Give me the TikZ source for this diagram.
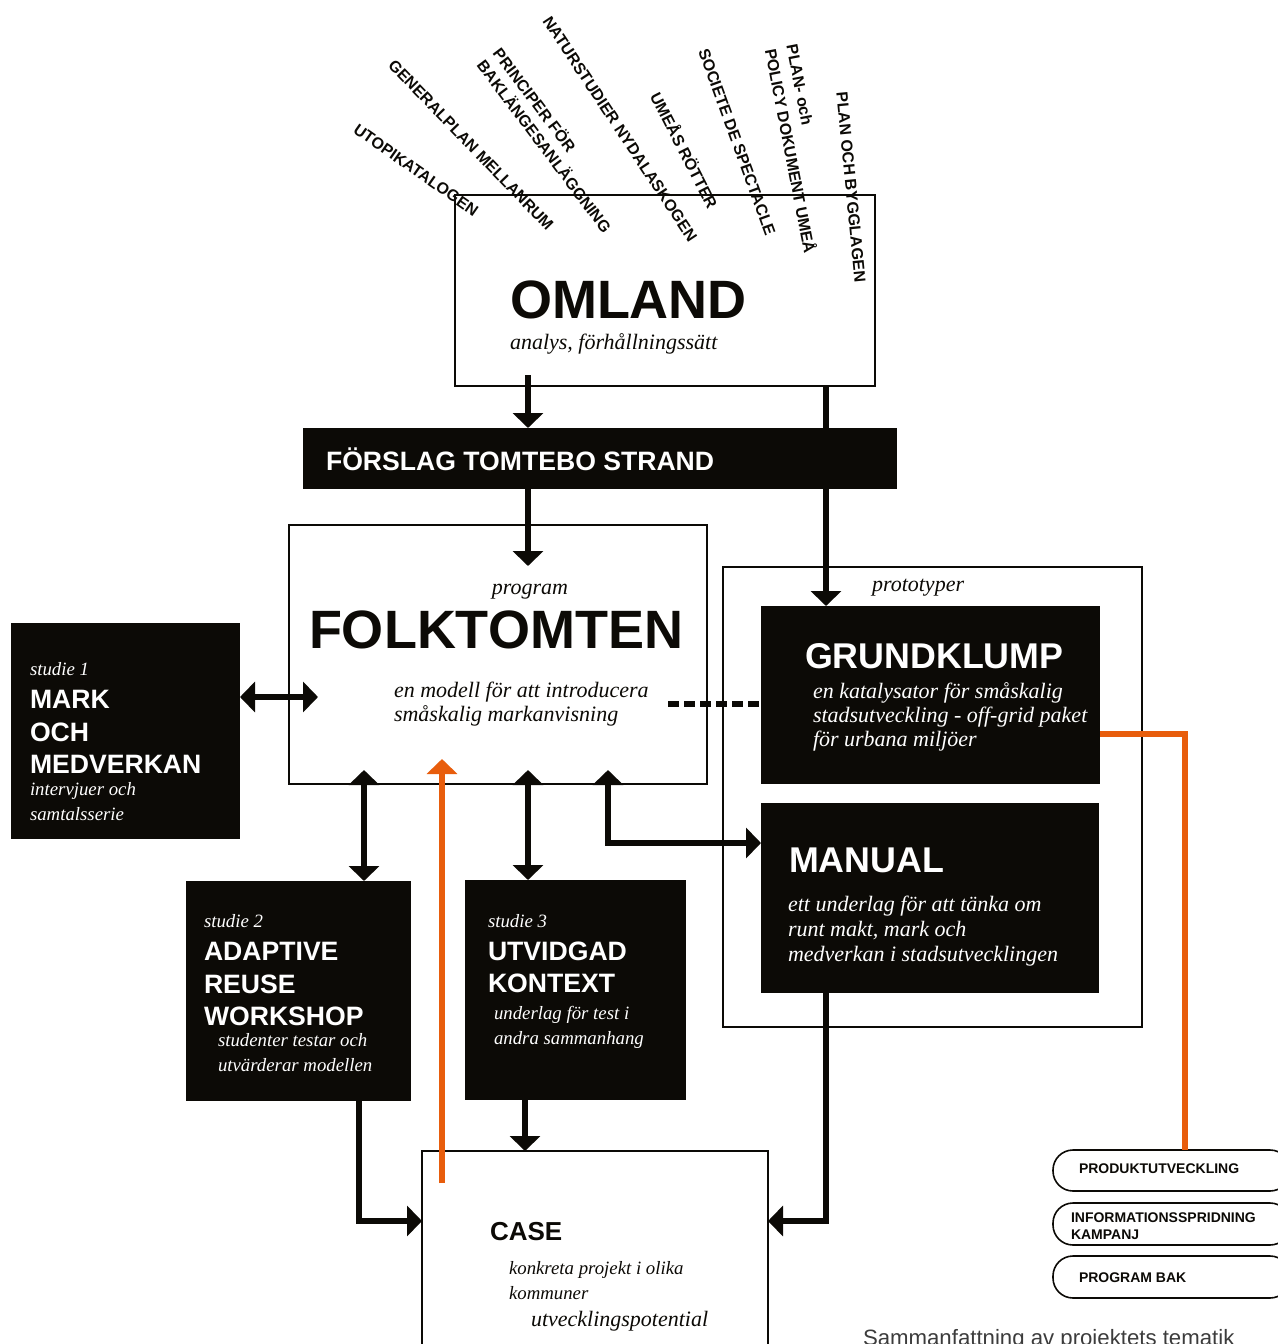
\documentclass[tikz,border=0pt]{standalone}
\usepackage{fontspec}
\setmainfont{Liberation Serif}
\setsansfont{Liberation Sans}
\usetikzlibrary{arrows.meta}

\definecolor{ink}{RGB}{12,10,6}
\definecolor{ember}{RGB}{232,93,12}
\definecolor{captiongray}{RGB}{60,60,60}

\tikzset{
  frame/.style={draw=ink, line width=0.75pt, fill=white, inner sep=0pt, outer sep=0pt},
  slab/.style={fill=ink, inner sep=0pt, outer sep=0pt},
  capsule/.style={draw=ink, line width=0.8pt, rounded corners=10pt, inner sep=0pt, outer sep=0pt},
  link/.style={draw=ink, line width=3pt},
  onehead/.style={-{Triangle[length=7.5pt,width=15pt]}},
  twoheads/.style={{Triangle[length=7.5pt,width=15pt]}-{Triangle[length=7.5pt,width=15pt]}},
  emberlink/.style={draw=ember, line width=3.2pt},
  txt/.style={inner sep=0pt, outer sep=0pt, anchor=base west, text=ink},
  hugecaps/.style={txt, font=\sffamily\bfseries\fontsize{27}{32}\selectfont},
  bigcaps/.style={txt, font=\sffamily\bfseries\fontsize{17.9}{21}\selectfont},
  midcaps/.style={txt, font=\sffamily\bfseries\fontsize{13.3}{16}\selectfont},
  itnote/.style={txt, font=\itshape\fontsize{11}{13}\selectfont},
  itsmall/.style={txt, font=\itshape\fontsize{9.4}{12}\selectfont},
  pilltext/.style={txt, font=\sffamily\bfseries\fontsize{7}{8.5}\selectfont},
  fanlabel/.style={inner sep=0pt, outer sep=0pt, text=ink, align=left,
    font=\sffamily\bfseries\fontsize{8}{10}\selectfont},
  onslab/.style={text=white},
}

\begin{document}
\begin{tikzpicture}[x=0.5pt,y=-0.5pt]
\useasboundingbox (0,0) rectangle (1278,1344);
\clip (0,0) rectangle (1278,1344);

% ---------- outlined boxes ----------
\node[frame, minimum width=210pt, minimum height=95.5pt] (omland) at (665,290.5) {};
\node[frame, minimum width=209pt, minimum height=129.5pt] (folk) at (498,654.5) {};
\node[frame, minimum width=209.5pt, minimum height=230pt] (proto) at (932.5,797) {};
\node[frame, minimum width=173pt, minimum height=109.5pt] (case) at (595,1260.5) {};

% ---------- black boxes ----------
\node[slab, minimum width=297pt, minimum height=30.5pt] (forslag) at (600,458.5) {};
\node[slab, minimum width=114.5pt, minimum height=108pt] (mark) at (125.5,731) {};
\node[slab, minimum width=169.5pt, minimum height=89pt] (grund) at (930.5,695) {};
\node[slab, minimum width=169pt, minimum height=95pt] (manual) at (930,898) {};
\node[slab, minimum width=112.5pt, minimum height=110pt] (adaptive) at (298.5,991) {};
\node[slab, minimum width=110.5pt, minimum height=110pt] (utvidgad) at (575.5,990) {};

% ---------- capsules ----------
\node[capsule, minimum width=118.5pt, minimum height=20.5pt] (pill1) at (1171.5,1170.5) {};
\node[capsule, minimum width=118.5pt, minimum height=21pt] (pill2) at (1171.5,1224) {};
\node[capsule, minimum width=118.5pt, minimum height=21pt] (pill3) at (1171.5,1277) {};

% ---------- connectors ----------
\coordinate (c-om) at (528,375);
\draw[link,onehead] (c-om) -- (c-om |- forslag.north);

\coordinate (c-rx) at (826,0);
\draw[link,onehead] (omland.south -| c-rx) -- (grund.north -| c-rx);

\coordinate (c-folkin) at (528,566);
\draw[link,onehead] (forslag.south -| c-folkin) -- (c-folkin);

\coordinate (c-markin) at (318,697);
\draw[link,twoheads] (mark.east |- c-markin) -- (c-markin);

\coordinate (c-f1) at (364,770);
\draw[link,twoheads] (c-f1) -- (c-f1 |- adaptive.north);
\coordinate (c-f2) at (528,770);
\draw[link,twoheads] (c-f2) -- (c-f2 |- utvidgad.north);
\coordinate (c-f3) at (608,770);
\coordinate (c-bend) at (608,843);
\draw[link,twoheads] (c-f3) -- (c-bend) -- (c-bend -| manual.west);

\coordinate (c-dash) at (668,704);
\draw[link, dash pattern=on 5.5pt off 2.5pt] (c-dash) -- (c-dash -| grund.west);

\coordinate (c-mc) at (826,1221);
\draw[link,onehead] (manual.south -| c-mc) -- (c-mc) -- (c-mc -| case.east);
\coordinate (c-ac) at (359,1221);
\draw[link,onehead] (adaptive.south -| c-ac) -- (c-ac) -- (c-ac -| case.west);
\coordinate (c-uc) at (525,0);
\draw[link,onehead] (utvidgad.south -| c-uc) -- (case.north -| c-uc);

\coordinate (c-ember) at (442,1183);
\coordinate (c-embertip) at (442,759);
\draw[emberlink,-{Triangle[length=7.5pt,width=15pt]}] (c-ember) -- (c-embertip);
\coordinate (c-fl) at (1185,734);
\draw[emberlink] (grund.east |- c-fl) -- (c-fl) -- (c-fl |- pill1.north);

% ---------- source documents fanning into OMLAND ----------
\node[fanlabel, rotate=-35] (src1) at (416,170) {UTOPIKATALOGEN};
\node[fanlabel, rotate=-46] (src2) at (471,145) {GENERALPLAN MELLANRUM};
\node[fanlabel, rotate=-53] (src3) at (553,139.8) {PRINCIPER FÖR\\BAKLÄNGESANLÄGGNING};
\node[fanlabel, rotate=-56.5] (src4) at (620,129) {NATURSTUDIER NYDALASKOGEN};
\node[fanlabel, rotate=-63] (src5) at (685,150) {UMEÅS RÖTTER};
\node[fanlabel, rotate=-70] (src6) at (737,142) {SOCIETE DE SPECTACLE};
\node[fanlabel, rotate=-79, font=\sffamily\bfseries\fontsize{8}{11}\selectfont] (src7) at (801,149) {PLAN- och\\POLICY DOKUMENT UMEÅ};
\node[fanlabel, rotate=-84.5] (src8) at (851,187) {PLAN OCH BYGGLAGEN};

% ---------- OMLAND ----------
\node[hugecaps] (omland-t) at (510,318) {OMLAND};
\node[itnote] (omland-s) at (510,349) {analys, förhållningssätt};

% ---------- FÖRSLAG ----------
\node[midcaps, onslab] (forslag-t) at (326,470) {FÖRSLAG TOMTEBO STRAND};

% ---------- FOLKTOMTEN ----------
\node[itnote, anchor=base] (folk-k) at (530,594) {program};
\node[hugecaps] (folk-t) at (309,648) {FOLKTOMTEN};
\node[itnote] (folk-s1) at (394,697) {en modell för att introducera};
\node[itnote] (folk-s2) at (394,721) {småskalig markanvisning};

% ---------- studie 1 ----------
\node[itsmall, onslab] (mark-k) at (30,675) {studie 1};
\node[midcaps, onslab] (mark-t1) at (30,708) {MARK};
\node[midcaps, onslab] (mark-t2) at (30,741) {OCH};
\node[midcaps, onslab] (mark-t3) at (30,773) {MEDVERKAN};
\node[itsmall, onslab] (mark-s1) at (30,795) {intervjuer och};
\node[itsmall, onslab] (mark-s2) at (30,820) {samtalsserie};

% ---------- prototyper ----------
\node[itnote] (proto-k) at (872,591) {prototyper};
\node[bigcaps, onslab] (grund-t) at (805,668) {GRUNDKLUMP};
\node[itnote, onslab] (grund-s1) at (813,698) {en katalysator för småskalig};
\node[itnote, onslab] (grund-s2) at (813,722) {stadsutveckling - off-grid paket};
\node[itnote, onslab] (grund-s3) at (813,746) {för urbana miljöer};
\node[bigcaps, onslab] (manual-t) at (789,872) {MANUAL};
\node[itnote, onslab] (manual-s1) at (788,911) {ett underlag för att tänka om};
\node[itnote, onslab] (manual-s2) at (788,936) {runt makt, mark och};
\node[itnote, onslab] (manual-s3) at (788,961) {medverkan i stadsutvecklingen};

% ---------- studie 2 ----------
\node[itsmall, onslab] (adaptive-k) at (204,927) {studie 2};
\node[midcaps, onslab] (adaptive-t1) at (204,960) {ADAPTIVE};
\node[midcaps, onslab] (adaptive-t2) at (204,993) {REUSE};
\node[midcaps, onslab] (adaptive-t3) at (204,1025) {WORKSHOP};
\node[itsmall, onslab] (adaptive-s1) at (218,1046) {studenter testar och};
\node[itsmall, onslab] (adaptive-s2) at (218,1071) {utvärderar modellen};

% ---------- studie 3 ----------
\node[itsmall, onslab] (utvidgad-k) at (488,927) {studie 3};
\node[midcaps, onslab] (utvidgad-t1) at (488,960) {UTVIDGAD};
\node[midcaps, onslab] (utvidgad-t2) at (488,992) {KONTEXT};
\node[itsmall, onslab] (utvidgad-s1) at (494,1019) {underlag för test i};
\node[itsmall, onslab] (utvidgad-s2) at (494,1044) {andra sammanhang};

% ---------- CASE ----------
\node[midcaps, font=\sffamily\bfseries\fontsize{13}{16}\selectfont] (case-t) at (490,1240) {CASE};
\node[itsmall] (case-s1) at (509,1274) {konkreta projekt i olika};
\node[itsmall] (case-s2) at (509,1299) {kommuner};
\node[itnote] (case-s3) at (531,1326) {utvecklingspotential};

% ---------- capsule texts ----------
\node[pilltext] (pill1-t) at (1079,1173) {PRODUKTUTVECKLING};
\node[pilltext] (pill2-t1) at (1071,1222) {INFORMATIONSSPRIDNING};
\node[pilltext] (pill2-t2) at (1071,1239) {KAMPANJ};
\node[pilltext] (pill3-t) at (1079,1282) {PROGRAM BAK};

% ---------- caption ----------
\node[txt, text=captiongray, font=\sffamily\fontsize{11.1}{13}\selectfont] (caption) at (863,1345) {Sammanfattning av projektets tematik};
\end{tikzpicture}
\end{document}
